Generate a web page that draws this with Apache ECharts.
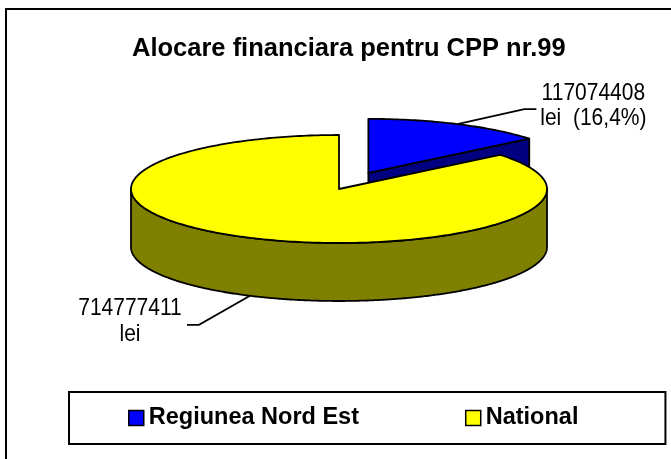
<!DOCTYPE html>
<html>
<head>
<meta charset="utf-8">
<script src="https://cdn.jsdelivr.net/npm/echarts@6/dist/echarts.min.js"></script>
<style>
  html, body { margin: 0; padding: 0; background: #fff; }
  #chart { width: 671px; height: 459px; }
</style>
</head>
<body>
<div id="chart"></div>
<script>
// date din grafic
const sliceNames = ['Regiunea Nord Est', 'National'];
const sliceValues = [117074408, 714777411];
const sliceShares = ['16,4%', null]; // procentul scris pe grafic
const chartTitle = 'Alocare financiara pentru CPP nr.99';

// stiluri
const topColors = ['#0000ff', '#ffff00'];
const sideColors = ['#000080', '#808000'];
const explode = [0.33, 0];
const labelElbow = [[67, -15], [-51, 29]];
const FONT = "'Liberation Sans', Arial, sans-serif";

// geometrie pie 3D
const PIE = { cx: 339, cy: 189, rx: 208, ry: 54, depth: 58 };

const total = sliceValues.reduce((a, b) => a + b, 0);

function pt(ox, oy, a) {
	return [ox + PIE.rx * Math.cos(a), oy - PIE.ry * Math.sin(a)];
}

function arc(ox, oy, a0, a1) {
	let pts = [];
	let n = Math.max(2, Math.ceil(Math.abs(a0 - a1) / (Math.PI / 180)));
	for (let k = 0; k <= n; k++) {
		pts.push(pt(ox, oy, a0 + (a1 - a0) * k / n));
	}
	return pts;
}

// partea curbata vizibila (fata)
function frontRuns(a0, a1) {
	let angles = [];
	let n = Math.max(2, Math.ceil(Math.abs(a0 - a1) / (Math.PI / 360)));
	for (let k = 0; k <= n; k++) angles.push(a0 + (a1 - a0) * k / n);
	let runs = [], cur = [];
	angles.forEach(a => {
		if (Math.sin(a) <= 1e-6) {
			cur.push(a);
		} else if (cur.length) {
			runs.push(cur);
			cur = [];
		}
	});
	if (cur.length) runs.push(cur);
	return runs.filter(r => r.length > 1);
}

function makeSlice(idx) {
	return function (params, api) {
		let before = 0;
		for (let i = 0; i < idx; i++) before += sliceValues[i];
		const value = api.value(0);
		const a0 = Math.PI / 2 - 2 * Math.PI * before / total;
		const a1 = a0 - 2 * Math.PI * value / total;
		const mid = (a0 + a1) / 2;
		const off = explode[idx];
		const ox = PIE.cx + PIE.rx * off * Math.cos(mid);
		const oy = PIE.cy - PIE.ry * off * Math.sin(mid);
		const by = oy + PIE.depth;
		const line = { stroke: '#000', lineWidth: 1.8, lineJoin: 'round' };
		let children = [];

		// fete radiale
		if (Math.cos(a0) < -1e-6) {
			let e = pt(ox, oy, a0), eb = pt(ox, by, a0);
			children.push({ type: 'polygon', shape: { points: [[ox, oy], e, eb, [ox, by]] },
				style: Object.assign({ fill: sideColors[idx] }, line) });
		}
		if (Math.cos(a1) > 1e-6) {
			let e = pt(ox, oy, a1), eb = pt(ox, by, a1);
			children.push({ type: 'polygon', shape: { points: [[ox, oy], e, eb, [ox, by]] },
				style: Object.assign({ fill: sideColors[idx] }, line) });
		}
		// laterala
		frontRuns(a0, a1).forEach(run => {
			let top = run.map(a => pt(ox, oy, a));
			let bot = run.map(a => pt(ox, by, a)).reverse();
			children.push({ type: 'polygon', shape: { points: top.concat(bot) },
				style: Object.assign({ fill: sideColors[idx] }, line) });
		});
		// fata de sus
		children.push({ type: 'polygon', shape: { points: [[ox, oy]].concat(arc(ox, oy, a0, a1)) },
			style: Object.assign({ fill: api.visual('color') }, line) });

		// eticheta
		let start = Math.sin(mid) > 0 ? pt(ox, oy, mid) : pt(ox, by, mid);
		let elbow = [start[0] + labelElbow[idx][0], start[1] + labelElbow[idx][1]];
		let dir = Math.cos(mid) >= 0 ? 1 : -1;
		let end = [elbow[0] + dir * 12, elbow[1]];
		children.push({ type: 'polyline', shape: { points: [start, elbow, end] },
			style: { stroke: '#000', lineWidth: 1.8, fill: null } });
		let txt = value + '\nlei' + (sliceShares[idx] ? '  (' + sliceShares[idx] + ')' : '');
		children.push({ type: 'text', x: end[0] + dir * 57, y: end[1] - 3, scaleY: 1.12,
			style: {
				text: txt, x: 0, y: 0, align: 'center', verticalAlign: 'middle',
				fontSize: 21, lineHeight: 23, fontFamily: FONT, fill: '#000'
			} });

		return { type: 'group', children: children };
	};
}

const chart = echarts.init(document.getElementById('chart'), null, { renderer: 'canvas' });

chart.setOption({
	animation: false,
	backgroundColor: '#fff',
	title: {
		text: chartTitle,
		left: 132,
		top: 36,
		padding: 0,
		textStyle: { fontFamily: FONT, fontSize: 25.5, fontWeight: 'bold', color: '#000' }
	},
	legend: {
		data: sliceNames,
		left: 69,
		top: 392,
		orient: 'horizontal',
		padding: [14, 87, 14, 59],
		borderColor: '#000',
		borderWidth: 2,
		itemWidth: 15,
		itemHeight: 15,
		itemGap: 106,
		itemTextGap: 6,
		icon: 'rect',
		itemStyle: { borderColor: '#000', borderWidth: 1.5 },
		textStyle: { fontFamily: FONT, fontSize: 23.5, fontWeight: 'bold', color: '#000', lineHeight: 24 }
	},
	graphic: [{
		type: 'rect',
		shape: { x: 6, y: 9, width: 700, height: 500 },
		style: { fill: null, stroke: '#000', lineWidth: 2 },
		silent: true
	}],
	series: sliceNames.map((name, i) => ({
		type: 'custom',
		name: name,
		coordinateSystem: 'none',
		z: 2 + i,
		silent: true,
		itemStyle: { color: topColors[i], borderColor: '#000', borderWidth: 1.5 },
		data: [[sliceValues[i]]],
		renderItem: makeSlice(i)
	}))
});
</script>
</body>
</html>
